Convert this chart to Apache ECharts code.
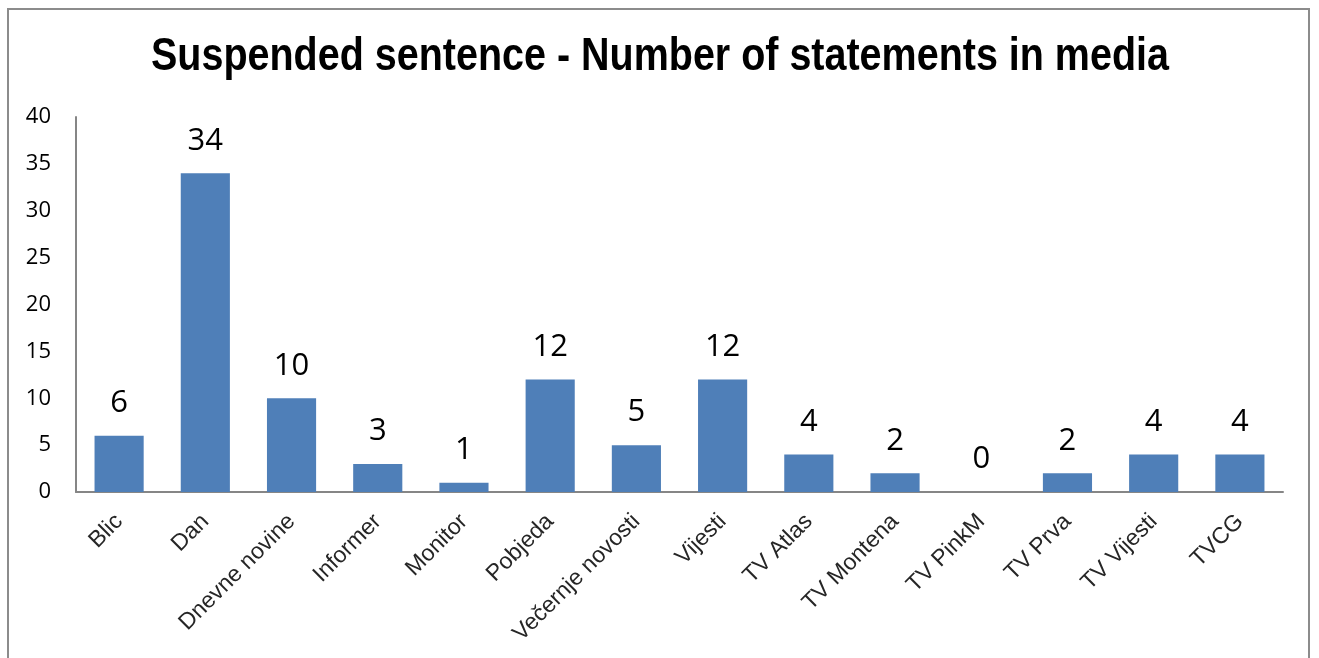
<!DOCTYPE html>
<html><head><meta charset="utf-8">
<script src="https://cdn.jsdelivr.net/npm/echarts@6/dist/echarts.min.js"></script>
<style>html,body{margin:0;padding:0;background:#fff}#c{width:1319px;height:658px}
#frame{position:absolute;left:7px;top:8px;width:1303px;height:700px;border:2px solid #8c8c8c;box-sizing:border-box;pointer-events:none}</style>
</head><body><div id="c"></div><div id="frame"></div>
<script>
const categories = ["Blic","Dan","Dnevne novine","Informer","Monitor","Pobjeda","Večernje novosti","Vijesti","TV Atlas","TV Montena","TV PinkM","TV Prva","TV Vijesti","TVCG"];
const values = [6,34,10,3,1,12,5,12,4,2,0,2,4,4];
const yTicks = [0,5,10,15,20,25,30,35,40];
const titleText = 'Suspended sentence - Number of statements in media';
const chart = echarts.init(document.getElementById('c'));
chart.setOption({
  animation:false,
  graphic:[{type:'text',x:660,y:57,scaleX:0.84,originX:0,
    style:{text:titleText,font:'bold 47px "Liberation Sans"',fill:'#000',align:'center',verticalAlign:'middle'}}],
  grid:{left:76,right:36,top:117,bottom:166},
  xAxis:{type:'category',data:categories,
    axisLine:{lineStyle:{color:'#868686',width:2}},axisTick:{show:false},
    axisLabel:{rotate:45,interval:0,margin:26,fontFamily:'Liberation Sans',fontSize:23,color:'#262626'}},
  yAxis:{type:'value',min:yTicks[0],max:yTicks[yTicks.length-1],interval:5,
    axisLine:{show:true,lineStyle:{color:'#868686',width:2}},axisTick:{show:false},splitLine:{show:false},
    axisLabel:{margin:25,fontFamily:'Open Sans',fontSize:22,color:'#000'}},
  series:[{type:'bar',data:values,barWidth:'57%',
    itemStyle:{color:'#4F7FB8'},
    label:{show:true,position:'top',distance:17,fontFamily:'Open Sans',fontSize:31,color:'#000'}}]
});
</script></body></html>
